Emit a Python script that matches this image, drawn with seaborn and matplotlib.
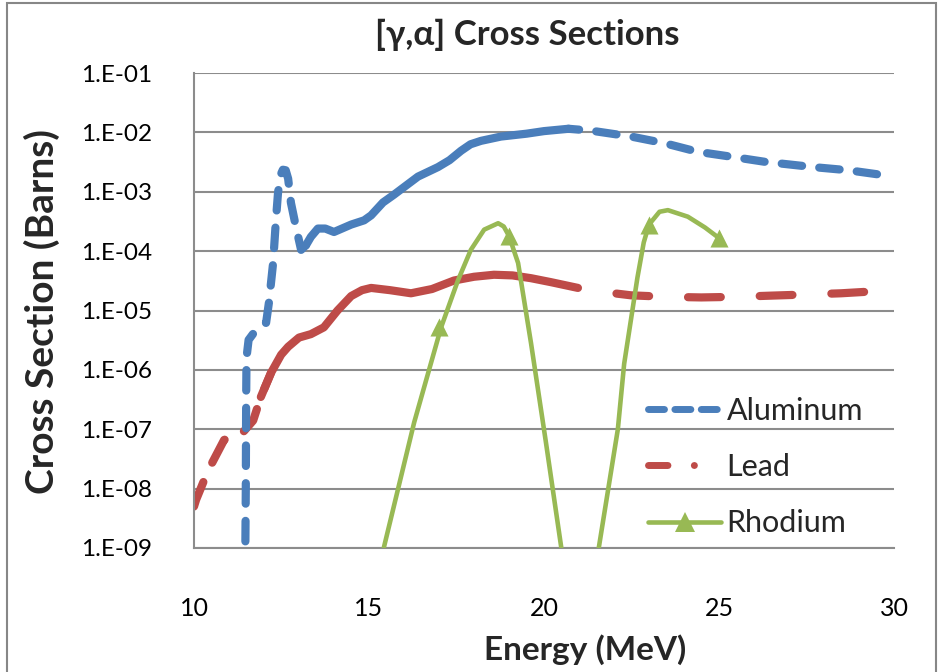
import matplotlib
matplotlib.use("Agg")
import matplotlib.pyplot as plt
from matplotlib.lines import Line2D
from matplotlib.patches import Rectangle
from matplotlib.ticker import FixedLocator, FixedFormatter, NullLocator
import pandas as pd
import seaborn as sns

# ---- data: (gamma, alpha) cross sections in barns vs photon energy in MeV ----
al_energy = [11.46, 11.48, 11.49, 11.50, 11.56, 11.77, 12.06, 12.14, 12.26, 12.34,
             12.40, 12.47, 12.54, 12.62, 12.69, 12.77, 12.91, 13.06, 13.20, 13.34,
             13.54, 13.75, 14.00, 14.49, 14.86, 15.06, 15.40, 15.71, 16.05, 16.40,
             16.97, 17.30, 17.63, 17.90, 18.20, 18.77, 19.50, 20.00, 20.70, 21.34,
             22.49, 23.43, 24.40, 25.34, 26.30, 27.70, 28.70, 30.00]
al_sigma = [3.0e-10, 1.0e-8, 3.0e-7, 1.6e-6, 3.2e-6, 4.7e-6, 6.2e-6, 1.35e-5, 6.3e-5, 3.3e-4,
            9.5e-4, 1.9e-3, 2.35e-3, 2.3e-3, 1.66e-3, 6.5e-4, 2.6e-4, 1.05e-4, 1.26e-4, 1.74e-4,
            2.4e-4, 2.4e-4, 2.1e-4, 2.8e-4, 3.3e-4, 4.0e-4, 6.6e-4, 8.9e-4, 1.26e-3, 1.8e-3,
            2.6e-3, 3.4e-3, 4.9e-3, 6.3e-3, 7.2e-3, 8.5e-3, 9.5e-3, 1.05e-2, 1.15e-2, 1.07e-2,
            8.5e-3, 6.6e-3, 4.7e-3, 3.9e-3, 3.2e-3, 2.6e-3, 2.3e-3, 1.8e-3]

lead_energy = [10.00, 10.06, 10.40, 10.86, 11.20, 11.40, 11.69, 11.91, 12.20, 12.49,
               12.69, 13.00, 13.34, 13.71, 14.10, 14.49, 14.80, 15.06, 15.60, 16.20,
               16.80, 17.43, 18.00, 18.57, 19.10, 19.63, 20.20, 20.97, 22.00, 22.49,
               23.50, 24.49, 25.50, 26.49, 27.50, 28.49, 30.00]
lead_sigma = [5.0e-9, 6.5e-9, 2.0e-8, 6.6e-8, 8.3e-8, 8.9e-8, 1.4e-7, 3.5e-7, 8.9e-7, 1.8e-6,
              2.45e-6, 3.5e-6, 4.0e-6, 5.2e-6, 1.0e-5, 1.75e-5, 2.2e-5, 2.4e-5, 2.2e-5, 1.95e-5,
              2.3e-5, 3.2e-5, 3.7e-5, 4.0e-5, 3.9e-5, 3.5e-5, 3.0e-5, 2.4e-5, 1.95e-5, 1.8e-5,
              1.7e-5, 1.66e-5, 1.7e-5, 1.78e-5, 1.86e-5, 1.95e-5, 2.2e-5]

# smoothed Rhodium curve
rh_energy = [15.30, 15.43, 16.29, 17.06, 17.54, 17.91, 18.29, 18.69, 18.85,
             19.00, 19.26, 19.63, 20.05, 20.49, 20.62, 21.45, 21.57, 22.11, 22.29,
             22.67, 22.85, 23.00, 23.30, 23.54, 24.11, 24.60, 25.00]
rh_sigma = [3.0e-10, 1.05e-9, 1.3e-7, 5.2e-6, 3.2e-5, 1.05e-4, 2.3e-4, 2.95e-4, 2.6e-4,
            1.8e-4, 6.3e-5, 2.8e-6, 6.3e-8, 1.05e-9, 3.0e-10, 3.0e-10, 1.05e-9, 1.0e-7, 1.26e-6,
            3.6e-5, 1.4e-4, 2.8e-4, 4.6e-4, 4.9e-4, 3.8e-4, 2.5e-4, 1.66e-4]
# tabulated Rhodium points (marked)
rh_pt_energy = [17, 19, 23, 25]
rh_pt_sigma = [5.2e-6, 1.8e-4, 2.8e-4, 1.66e-4]

series_names = ["Aluminum", "Lead", "Rhodium"]
x_ticks = [10, 15, 20, 25, 30]
y_ticks = [1e-1, 1e-2, 1e-3, 1e-4, 1e-5, 1e-6, 1e-7, 1e-8, 1e-9]
y_tick_labels = ["1.E-01", "1.E-02", "1.E-03", "1.E-04", "1.E-05",
                 "1.E-06", "1.E-07", "1.E-08", "1.E-09"]

# ---- styling ----
W, H = 939, 672
C_AL, C_PB, C_RH = "#4A7EBB", "#BE4B48", "#98B954"
GRID = "#8C8C8C"
FONT = "Lato"

sns.set_theme(style="white")
plt.rcParams["font.family"] = [FONT, "DejaVu Sans"]

fig = plt.figure(figsize=(W / 100, H / 100), dpi=100)
ax = fig.add_axes([194 / W, 1 - 548 / H, 700 / W, 475 / H])

al = pd.DataFrame({"energy": al_energy, "sigma": al_sigma})
pb = pd.DataFrame({"energy": lead_energy, "sigma": lead_sigma})
rh = pd.DataFrame({"energy": rh_energy, "sigma": rh_sigma})
rh_pts = pd.DataFrame({"energy": rh_pt_energy, "sigma": rh_pt_sigma})


def piece(df, lo, hi):
    return df[(df["energy"] >= lo) & (df["energy"] <= hi)]


def draw(df, color, lw, ls, z):
    sns.lineplot(data=df, x="energy", y="sigma", ax=ax, color=color, linewidth=lw,
                 linestyle=ls, sort=False, estimator=None, dash_capstyle="round",
                 solid_capstyle="round", zorder=z, legend=False)


LW_THICK = 5.9

# Aluminum: dashed where sparse, continuous through the dense middle
draw(piece(al, 0, 13.2), C_AL, LW_THICK, (0, (2.5, 2.1)), 3)
draw(piece(al, 13.2, 20.7), C_AL, LW_THICK, "-", 3)
draw(piece(al, 20.7, 99), C_AL, LW_THICK, (1.2, (2.5, 2.1)), 3)

# Lead
draw(piece(pb, 0, 12.2), C_PB, LW_THICK, (0, (3.2, 2.6)), 2)
draw(piece(pb, 11.91, 20.97), C_PB, LW_THICK, "-", 2)
draw(piece(pb, 20.97, 99), C_PB, LW_THICK, (4.0, (4.0, 4.75)), 2)

# Rhodium
draw(rh, C_RH, 3.3, "-", 4)
sns.scatterplot(data=rh_pts, x="energy", y="sigma", ax=ax, color=C_RH, marker="^",
                s=13 ** 2, linewidth=0, zorder=5, legend=False)

ax.set_yscale("log")
ax.set_xlim(10, 30)
ax.set_ylim(1e-9, 1e-1)
ax.yaxis.set_major_locator(FixedLocator(y_ticks))
ax.yaxis.set_major_formatter(FixedFormatter(y_tick_labels))
ax.yaxis.set_minor_locator(NullLocator())
ax.xaxis.set_major_locator(FixedLocator(x_ticks))
ax.tick_params(axis="y", length=0, pad=30, labelsize=17.5, labelcolor="black")
ax.tick_params(axis="x", length=0, pad=35, labelsize=18, labelcolor="black")
ax.set_xlabel("")
ax.set_ylabel("")
ax.grid(axis="y", color=GRID, linewidth=1.5)
ax.grid(axis="x", visible=False)
ax.set_axisbelow(True)
for side in ("top", "right"):
    ax.spines[side].set_visible(False)
for side in ("left", "bottom"):
    ax.spines[side].set_color(GRID)
    ax.spines[side].set_linewidth(1.5)

# titles
fig.text(527 / W, 1 - 35 / H, "[γ,α] Cross Sections", ha="center", va="center",
         fontsize=25, fontweight="bold")
fig.text(585 / W, 1 - 650 / H, "Energy (MeV)", ha="center", va="center",
         fontsize=24, fontweight="bold")
fig.text(42 / W, 1 - 311 / H, "Cross Section (Barns)", ha="center", va="center",
         rotation=90, fontsize=28, fontweight="bold")

# legend
handles = [
    Line2D([], [], color=C_AL, lw=5.0, linestyle=(0, (2.3, 1.5)), dash_capstyle="round"),
    Line2D([], [], color=C_PB, lw=5.0, linestyle=(0, (2.8, 3.8, 0.01, 6)),
           dash_capstyle="round"),
    Line2D([], [], color=C_RH, lw=3.3, marker="^", markersize=14, markeredgewidth=0,
           solid_capstyle="round"),
]
leg = ax.legend(handles, series_names, loc="upper left",
                bbox_to_anchor=(648 / W, 1 - 397 / H), bbox_transform=fig.transFigure,
                frameon=False, fontsize=22, handlelength=2.4, handletextpad=0.17,
                labelspacing=0.92, borderpad=0, borderaxespad=0)

# chart-area border
fig.add_artist(Rectangle((7 / W, -0.05), 929 / W, 1.05 - 3 / H, transform=fig.transFigure,
                         fill=False, edgecolor="#878787", linewidth=1.5))

fig.savefig("out.png", dpi=100)
